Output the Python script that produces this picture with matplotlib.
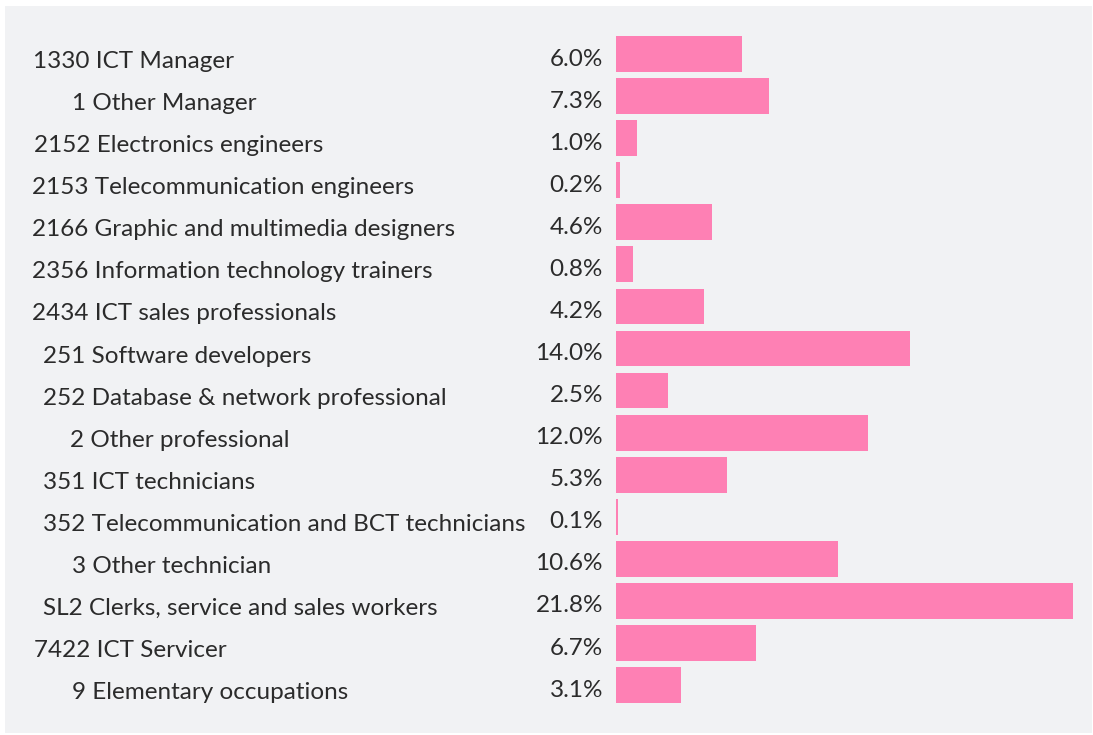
import matplotlib
matplotlib.use("Agg")
import matplotlib.pyplot as plt
from matplotlib.patches import Rectangle
from matplotlib.transforms import blended_transform_factory

# occupation groups and their share of ICT employment (%)
occupations = [
    "1330 ICT Manager",
    "1 Other Manager",
    "2152 Electronics engineers",
    "2153 Telecommunication engineers",
    "2166 Graphic and multimedia designers",
    "2356 Information technology trainers",
    "2434 ICT sales professionals",
    "251 Software developers",
    "252 Database & network professional",
    "2 Other professional",
    "351 ICT technicians",
    "352 Telecommunication and BCT technicians",
    "3 Other technician",
    "SL2 Clerks, service and sales workers",
    "7422 ICT Servicer",
    "9 Elementary occupations",
]
shares = [6.0, 7.3, 1.0, 0.2, 4.6, 0.8, 4.2, 14.0, 2.5, 12.0, 5.3, 0.1, 10.6, 21.8, 6.7, 3.1]

# left edge of each label in pixels (sub-groups are indented)
label_x = [33, 72, 34, 32, 32, 32, 32, 43, 43, 70, 43, 43, 72, 43, 34, 72]

W, H = 1093, 735
plt.rcParams["font.family"] = ["Lato", "DejaVu Sans"]

fig = plt.figure(figsize=(W / 100, H / 100), dpi=100, facecolor="white")
fig.patches.append(Rectangle((5 / W, 2 / H), 1087 / W, 727 / H,
                             transform=fig.transFigure, facecolor="#f1f2f4",
                             edgecolor="none", zorder=-10))

px_per_pct = 20.97
x0, xmax = 616, 22.0
row = 42.07
top = 54 - row / 2
n = len(shares)
ax = fig.add_axes([x0 / W, 1 - (top + n * row) / H, xmax * px_per_pct / W, n * row / H])
ax.set_facecolor("none")
ax.barh(range(n), shares, height=0.85, color="#fe80b4", zorder=2)
ax.set_xlim(0, xmax)
ax.set_ylim(n - 0.5, -0.5)
ax.axis("off")

tr = blended_transform_factory(fig.transFigure, ax.transData)
for i, (name, v) in enumerate(zip(occupations, shares)):
    ax.text(label_x[i] / W, i + 0.18, name, transform=tr, ha="left", va="center",
            fontsize=17.5, color="#2b2b2b", clip_on=False)
    ax.text(603 / W, i + 0.12, f"{v:.1f}%", transform=tr, ha="right", va="center",
            fontsize=17.5, color="#2b2b2b", clip_on=False)

fig.savefig("out.png", dpi=100, facecolor="white")
